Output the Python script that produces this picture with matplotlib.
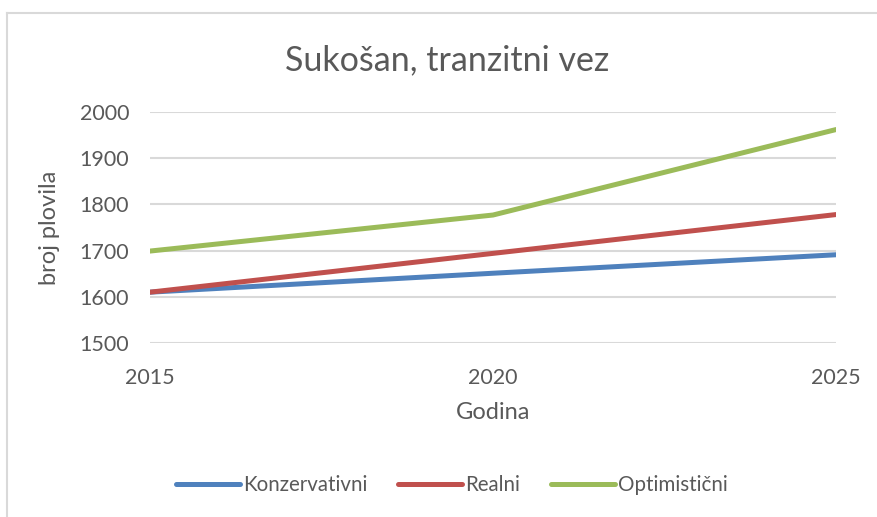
import matplotlib.pyplot as plt
from matplotlib.lines import Line2D

plt.rcParams['font.family'] = ['Lato', 'DejaVu Sans']

years = [2015, 2020, 2025]
konzervativni = [1610, 1651, 1691]
realni = [1610, 1694, 1778]
optimisticni = [1699, 1777, 1962]
y_ticks = [1500, 1600, 1700, 1800, 1900, 2000]

text_col = '#595959'
grid_col = '#D9D9D9'

fig = plt.figure(figsize=(8.77, 5.17), dpi=100)
ax = fig.add_axes([150 / 877, 1 - 343 / 517, (836 - 150) / 877, (343 - 112) / 517])

ax.plot(years, konzervativni, color='#4F81BD', lw=3.6, label='Konzervativni', solid_capstyle='round')
ax.plot(years, realni, color='#C0504D', lw=3.6, label='Realni', solid_capstyle='round')
ax.plot(years, optimisticni, color='#9BBB59', lw=3.6, label='Optimistični', solid_capstyle='round')

ax.set_xlim(2015, 2025)
ax.set_ylim(1500, 2000)
ax.set_xticks(years)
ax.set_yticks(y_ticks)
ax.yaxis.grid(True, color=grid_col, lw=1.5)
ax.set_axisbelow(True)
for s in ax.spines.values():
    s.set_visible(False)
ax.tick_params(length=0, labelsize=15.5, colors=text_col)
ax.tick_params(axis='y', pad=15)
ax.tick_params(axis='x', pad=18)

ax.set_xlabel('Godina', fontsize=17, color=text_col, labelpad=10)
ax.set_ylabel('broj plovila', fontsize=17, color=text_col, labelpad=14)
fig.text(447 / 877, 1 - 60 / 517, 'Sukošan, tranzitni vez', fontsize=24.5, color=text_col,
         ha='center', va='center')

leg = fig.legend(loc='center', bbox_to_anchor=(452 / 877, 1 - 485 / 517), ncol=3, frameon=False,
                 fontsize=14.8, handlelength=3.1, handletextpad=0.15, columnspacing=1.5)
for t in leg.get_texts():
    t.set_color(text_col)

# chart border (only top and left visible in the crop)
fig.add_artist(Line2D([7 / 877, 1], [1 - 13 / 517, 1 - 13 / 517], color=grid_col, lw=1.5))
fig.add_artist(Line2D([7 / 877, 7 / 877], [0, 1 - 13 / 517], color=grid_col, lw=1.5))

fig.savefig('out.png', dpi=100)
